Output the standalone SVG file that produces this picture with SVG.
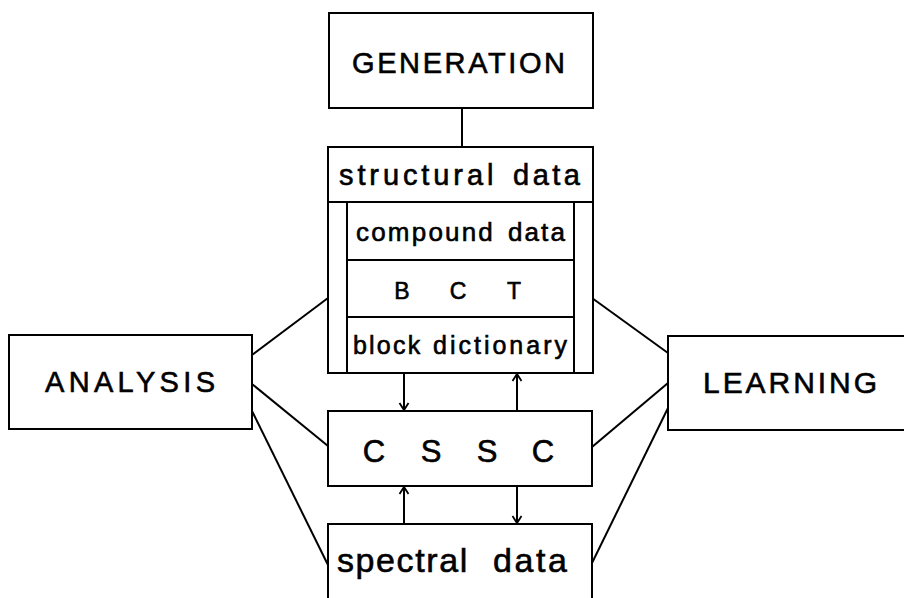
<svg xmlns="http://www.w3.org/2000/svg" width="904" height="598" viewBox="0 0 904 598">
<defs>
<style>
.box{fill:#fff;stroke:#000;stroke-width:2}
.ln{fill:none;stroke:#000;stroke-width:2}
.t{font-family:"Liberation Sans","DejaVu Sans",Arial,sans-serif;fill:#000;stroke:#000;stroke-width:0.6}
</style>
<marker id="ah" viewBox="-9 -6 11 12" refX="0" refY="0" markerWidth="11" markerHeight="12" markerUnits="userSpaceOnUse" orient="auto">
<path d="M-7,-4.5 L0,0 L-7,4.5" fill="none" stroke="#000" stroke-width="1.8"/>
</marker>
</defs>
<rect width="904" height="598" fill="#fff"/>

<g id="connectors">
<line class="ln" x1="462" y1="108" x2="462" y2="147"/>
<line class="ln" x1="252" y1="355" x2="328" y2="298"/>
<line class="ln" x1="252" y1="384" x2="328" y2="446"/>
<line class="ln" x1="252" y1="411" x2="328" y2="565"/>
<line class="ln" x1="592" y1="298" x2="668" y2="353"/>
<line class="ln" x1="592" y1="447" x2="668" y2="383"/>
<line class="ln" x1="592" y1="563" x2="668" y2="408"/>
<line class="ln" x1="404" y1="373" x2="404" y2="410" marker-end="url(#ah)"/>
<line class="ln" x1="517" y1="411" x2="517" y2="374" marker-end="url(#ah)"/>
<line class="ln" x1="404" y1="524" x2="404" y2="487" marker-end="url(#ah)"/>
<line class="ln" x1="517" y1="486" x2="517" y2="523" marker-end="url(#ah)"/>
</g>

<g id="generation">
<rect class="box" x="329" y="13" width="264" height="95"/>
<text class="t" x="352" y="73" font-size="29" textLength="213" lengthAdjust="spacing">GENERATION</text>
</g>

<g id="structural">
<rect class="box" x="328" y="147" width="265" height="226"/>
<line class="ln" x1="328" y1="202" x2="593" y2="202"/>
<line class="ln" x1="347" y1="202" x2="347" y2="373"/>
<line class="ln" x1="574" y1="202" x2="574" y2="373"/>
<line class="ln" x1="347" y1="260" x2="574" y2="260"/>
<line class="ln" x1="347" y1="317" x2="574" y2="317"/>
<text class="t" y="185" font-size="29"><tspan x="339" letter-spacing="3.9">structural </tspan><tspan x="513" letter-spacing="3.5">data</tspan></text>
<text class="t" y="241" font-size="26"><tspan x="356" letter-spacing="2.2">compound </tspan><tspan x="508" letter-spacing="2.1">data</tspan></text>
<text class="t" x="402 430 458 486 514" y="299" font-size="23" text-anchor="middle">B C T</text>
<text class="t" y="354" font-size="25"><tspan x="353" letter-spacing="2.2">block </tspan><tspan x="433" letter-spacing="3">dictionary</tspan></text>
</g>

<g id="analysis">
<rect class="box" x="9" y="335" width="243" height="94"/>
<text class="t" x="45" y="392" font-size="29" textLength="170" lengthAdjust="spacing">ANALYSIS</text>
</g>

<g id="learning">
<rect class="box" x="668" y="336" width="240" height="94"/>
<text class="t" x="703" y="393" font-size="30" textLength="174" lengthAdjust="spacing">LEARNING</text>
</g>

<g id="cssc">
<rect class="box" x="328" y="411" width="264" height="75"/>
<text class="t" x="374 402 431 459 487 515 543" y="462" font-size="31" text-anchor="middle">C S S C</text>
</g>

<g id="spectral">
<rect class="box" x="328" y="524" width="264" height="90"/>
<text class="t" y="572" font-size="34"><tspan x="337" letter-spacing="1.6">spectral </tspan><tspan x="493" letter-spacing="2.6">data</tspan></text>
</g>
</svg>
